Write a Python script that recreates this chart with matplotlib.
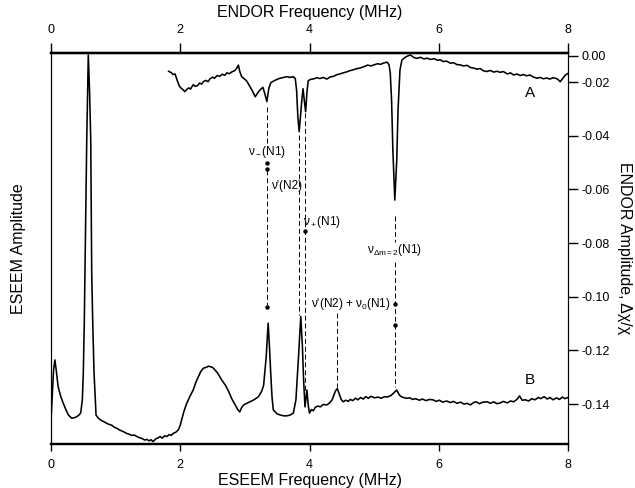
import matplotlib

matplotlib.use("Agg")
import matplotlib.pyplot as plt  # noqa: E402

plt.rcParams["font.family"] = ["Liberation Sans", "DejaVu Sans"]
plt.rcParams["mathtext.fontset"] = "custom"
plt.rcParams["mathtext.rm"] = "Liberation Sans"
plt.rcParams["mathtext.it"] = "Liberation Sans"

# ENDOR spectrum (trace A), right axis, delta chi / chi
endor_freq = [
    1.82, 1.86, 1.89, 1.92, 1.95, 1.98, 2.00, 2.04, 2.07, 2.10, 2.13, 2.16,
    2.20, 2.23, 2.27, 2.30, 2.33, 2.36, 2.40, 2.43, 2.46, 2.50, 2.53, 2.57,
    2.61, 2.65, 2.69, 2.72, 2.76, 2.80, 2.84, 2.87, 2.90, 2.92, 2.95, 2.98,
    3.02, 3.05, 3.08, 3.12, 3.16, 3.20, 3.24, 3.28, 3.31, 3.34, 3.37, 3.40,
    3.44, 3.48, 3.52, 3.56, 3.60, 3.65, 3.70, 3.75, 3.78, 3.80, 3.82, 3.84,
    3.86, 3.88, 3.90, 3.92, 3.94, 3.96, 3.98, 4.02, 4.07, 4.11, 4.16, 4.21,
    4.27, 4.32, 4.37, 4.42, 4.47, 4.52, 4.58, 4.62, 4.67, 4.72, 4.78, 4.84,
    4.90, 4.95, 5.00, 5.05, 5.10, 5.15, 5.20, 5.23, 5.25, 5.27, 5.29, 5.32,
    5.35, 5.37, 5.40, 5.43, 5.47, 5.51, 5.56, 5.61, 5.66, 5.72, 5.77, 5.82,
    5.87, 5.93, 5.98, 6.02, 6.07, 6.12, 6.18, 6.23, 6.28, 6.33, 6.38, 6.44,
    6.49, 6.54, 6.59, 6.64, 6.69, 6.74, 6.80, 6.85, 6.90, 6.95, 7.00, 7.06,
    7.11, 7.16, 7.21, 7.26, 7.31, 7.36, 7.41, 7.46, 7.52, 7.57, 7.62, 7.67,
    7.72, 7.77, 7.83, 7.86, 7.88, 7.92, 7.96, 8.00,
]
endor_amp = [
    -0.0160, -0.0165, -0.0172, -0.0170, -0.0192, -0.0212, -0.0220, -0.0228,
    -0.0236, -0.0228, -0.0222, -0.0226, -0.0210, -0.0216, -0.0213, -0.0204,
    -0.0208, -0.0198, -0.0194, -0.0199, -0.0188, -0.0182, -0.0186, -0.0176,
    -0.0179, -0.0171, -0.0175, -0.0166, -0.0169, -0.0162, -0.0158, -0.0150,
    -0.0137, -0.0160, -0.0180, -0.0186, -0.0194, -0.0205, -0.0218, -0.0235,
    -0.0255, -0.0240, -0.0228, -0.0220, -0.0245, -0.0273, -0.0225, -0.0203,
    -0.0197, -0.0192, -0.0188, -0.0185, -0.0183, -0.0180, -0.0183, -0.0180,
    -0.0188, -0.0230, -0.0330, -0.0385, -0.0330, -0.0270, -0.0225, -0.0270,
    -0.0311, -0.0240, -0.0195, -0.0190, -0.0188, -0.0184, -0.0187, -0.0183,
    -0.0189, -0.0181, -0.0179, -0.0173, -0.0170, -0.0166, -0.0162, -0.0158,
    -0.0155, -0.0151, -0.0148, -0.0143, -0.0137, -0.0140, -0.0136, -0.0132,
    -0.0134, -0.0129, -0.0126, -0.0135, -0.0168, -0.0267, -0.0453, -0.0640,
    -0.0491, -0.0304, -0.0155, -0.0118, -0.0110, -0.0104, -0.0099, -0.0108,
    -0.0112, -0.0108, -0.0114, -0.0111, -0.0116, -0.0113, -0.0119, -0.0117,
    -0.0124, -0.0122, -0.0130, -0.0128, -0.0135, -0.0136, -0.0140, -0.0138,
    -0.0146, -0.0148, -0.0152, -0.0150, -0.0158, -0.0161, -0.0157, -0.0163,
    -0.0160, -0.0164, -0.0161, -0.0170, -0.0166, -0.0174, -0.0170, -0.0176,
    -0.0172, -0.0177, -0.0174, -0.0181, -0.0186, -0.0183, -0.0188, -0.0185,
    -0.0189, -0.0184, -0.0188, -0.0194, -0.0199, -0.0186, -0.0174, -0.0168,
]

# ESEEM spectrum (trace B), left axis, arbitrary units
eseem_freq = [
    0.00, 0.02, 0.04, 0.06, 0.08, 0.11, 0.15, 0.19, 0.23, 0.27, 0.32, 0.36,
    0.40, 0.44, 0.46, 0.485, 0.50, 0.515, 0.535, 0.553, 0.577, 0.597, 0.615,
    0.63, 0.646, 0.666, 0.697, 0.732, 0.78, 0.82, 0.86, 0.90, 0.94, 0.98,
    1.02, 1.06, 1.10, 1.14, 1.17, 1.21, 1.25, 1.29, 1.33, 1.37, 1.41, 1.45,
    1.48, 1.52, 1.55, 1.58, 1.62, 1.66, 1.69, 1.72, 1.76, 1.79, 1.83, 1.86,
    1.89, 1.93, 1.97, 2.00, 2.02, 2.06, 2.10, 2.15, 2.20, 2.24, 2.28, 2.32,
    2.36, 2.40, 2.44, 2.46, 2.50, 2.54, 2.58, 2.62, 2.64, 2.70, 2.75, 2.80,
    2.85, 2.89, 2.92, 2.95, 2.98, 3.03, 3.08, 3.14, 3.21, 3.26, 3.29, 3.33,
    3.36, 3.38, 3.40, 3.42, 3.44, 3.50, 3.55, 3.60, 3.65, 3.70, 3.75, 3.79,
    3.83, 3.865, 3.89, 3.91, 3.93, 3.96, 3.98, 4.00, 4.03, 4.06, 4.09, 4.13,
    4.17, 4.21, 4.27, 4.31, 4.35, 4.40, 4.43, 4.46, 4.49, 4.52, 4.56, 4.60,
    4.63, 4.67, 4.71, 4.75, 4.79, 4.83, 4.87, 4.91, 4.95, 5.01, 5.06, 5.11,
    5.16, 5.20, 5.26, 5.30, 5.35, 5.38, 5.41, 5.45, 5.50, 5.55, 5.60, 5.64,
    5.70, 5.75, 5.80, 5.86, 5.91, 5.96, 6.01, 6.06, 6.12, 6.18, 6.23, 6.28,
    6.34, 6.39, 6.44, 6.49, 6.54, 6.58, 6.63, 6.68, 6.75, 6.80, 6.85, 6.90,
    6.95, 7.00, 7.06, 7.11, 7.16, 7.21, 7.25, 7.29, 7.34, 7.39, 7.44, 7.49,
    7.54, 7.58, 7.63, 7.68, 7.72, 7.77, 7.82, 7.87, 7.91, 7.95, 8.00,
]
eseem_amp = [
    0.060, 0.125, 0.190, 0.215, 0.190, 0.147, 0.122, 0.104, 0.088, 0.074,
    0.066, 0.067, 0.070, 0.075, 0.080, 0.113, 0.182, 0.309, 0.550, 0.777,
    0.995, 0.900, 0.777, 0.437, 0.309, 0.182, 0.074, 0.066, 0.060, 0.057,
    0.053, 0.050, 0.048, 0.043, 0.040, 0.036, 0.033, 0.030, 0.027, 0.025,
    0.022, 0.023, 0.019, 0.016, 0.014, 0.010, 0.012, 0.008, 0.011, 0.006,
    0.013, 0.016, 0.019, 0.015, 0.021, 0.019, 0.024, 0.022, 0.027, 0.030,
    0.036, 0.048, 0.061, 0.085, 0.104, 0.122, 0.138, 0.157, 0.172, 0.186,
    0.194, 0.196, 0.199, 0.198, 0.196, 0.189, 0.181, 0.170, 0.164, 0.150,
    0.134, 0.115, 0.100, 0.088, 0.082, 0.093, 0.100, 0.104, 0.108, 0.113,
    0.121, 0.135, 0.150, 0.223, 0.309, 0.250, 0.181, 0.120, 0.087, 0.077,
    0.074, 0.072, 0.072, 0.074, 0.079, 0.113, 0.223, 0.326, 0.250, 0.160,
    0.095, 0.138, 0.100, 0.079, 0.088, 0.085, 0.094, 0.097, 0.095, 0.101,
    0.100, 0.105, 0.113, 0.135, 0.142, 0.128, 0.114, 0.108, 0.112, 0.109,
    0.114, 0.111, 0.117, 0.113, 0.119, 0.115, 0.121, 0.117, 0.122, 0.118,
    0.120, 0.117, 0.121, 0.120, 0.124, 0.130, 0.138, 0.128, 0.122, 0.119,
    0.117, 0.118, 0.114, 0.116, 0.112, 0.115, 0.111, 0.114, 0.113, 0.109,
    0.112, 0.107, 0.110, 0.106, 0.109, 0.104, 0.107, 0.102, 0.104, 0.100,
    0.106, 0.108, 0.103, 0.107, 0.108, 0.104, 0.108, 0.103, 0.105, 0.109,
    0.105, 0.110, 0.108, 0.114, 0.123, 0.112, 0.113, 0.110, 0.116, 0.113,
    0.119, 0.116, 0.121, 0.115, 0.119, 0.113, 0.118, 0.114, 0.120, 0.116,
    0.119,
]

freq_ticks = [0, 2, 4, 6, 8]
endor_ticks = [-0.0103, -0.02, -0.04, -0.06, -0.08, -0.10, -0.12, -0.14]
endor_tick_labels = ["0.00", "-0.02", "-0.04", "-0.06", "-0.08", "-0.10",
                     "-0.12", "-0.14"]

fig = plt.figure(figsize=(6.35, 4.88), dpi=100)
ax = fig.add_axes([51 / 635, 44 / 488, 517 / 635, 391 / 488])
ax.plot(eseem_freq, eseem_amp, color="black", lw=1.15)
ax.set_xlim(0, 8)
ax.set_ylim(0, 1)
ax.set_yticks([])
ax.set_xticks(freq_ticks)
ax.tick_params(axis="x", direction="out", length=5, width=1, pad=6,
               labelsize=9)
ax.set_xlabel("ESEEM Frequency (MHz)", fontsize=11.5, labelpad=1)
ax.set_ylabel("ESEEM Amplitude", fontsize=11.5, labelpad=18)

top = ax.secondary_xaxis("top")
top.set_xticks(freq_ticks)
top.tick_params(direction="out", length=7, width=1, pad=5, labelsize=9)
top.set_xlabel("ENDOR Frequency (MHz)", fontsize=11.5, labelpad=5)

ax2 = ax.twinx()
ax2.plot(endor_freq, endor_amp, color="black", lw=1.15)
ax2.set_ylim(-0.1549, -0.00919)
ax2.set_yticks(endor_ticks)
ax2.set_yticklabels(endor_tick_labels)
ax2.tick_params(axis="y", direction="out", length=7, width=1, pad=3,
                labelsize=9)
ax2.set_ylabel("ENDOR Amplitude, Δχ/χ", fontsize=11.5, rotation=270,
               labelpad=16)

for a in (ax, ax2):
    a.spines["top"].set_linewidth(1.6)
    a.spines["bottom"].set_linewidth(1.6)
    a.spines["left"].set_linewidth(0.8)
    a.spines["right"].set_linewidth(0.8)
top.spines["top"].set_linewidth(1.6)

# dashed guide lines linking ENDOR and ESEEM lines (ENDOR units on y)
dash = dict(color="black", lw=0.7, ls=(0, (5, 3)))
ax2.plot([3.348, 3.348], [-0.0293, -0.0453], **dash)
ax2.plot([3.348, 3.348], [-0.0528, -0.1031], **dash)
ax2.plot([3.839, 3.839], [-0.0398, -0.1068], **dash)
ax2.plot([3.932, 3.932], [-0.0316, -0.1348], **dash)
ax2.plot([4.423, 4.423], [-0.1061, -0.1337], **dash)
ax2.plot([5.325, 5.325], [-0.0699, -0.0796], **dash)
ax2.plot([5.325, 5.325], [-0.0871, -0.1337], **dash)

dots_x = [3.348, 3.348, 3.348, 3.932, 5.325, 5.325]
dots_y = [-0.0503, -0.0525, -0.1037, -0.0755, -0.1027, -0.1106]
ax2.plot(dots_x, dots_y, "o", color="black", ms=2.2)

fs = 8.5
ax2.text(3.348, -0.0461, "ν$_-$(N1)", ha="center", va="center", fontsize=fs)
ax2.text(3.40, -0.0588, "ν'(N2)", ha="left", va="center", fontsize=fs)
ax2.text(3.90, -0.0722, "ν$_+$(N1)", ha="left", va="center", fontsize=fs)
ax2.text(5.31, -0.0826, "ν$_{Δm=2}$(N1)", ha="center", va="center",
         fontsize=fs)
ax2.text(5.26, -0.1027, "ν'(N2) + ν$_0$(N1)", ha="right", va="center",
         fontsize=fs)
ax2.text(7.415, -0.0241, "A", ha="center", va="center", fontsize=11)
ax2.text(7.415, -0.1311, "B", ha="center", va="center", fontsize=11)

fig.savefig("out.png", dpi=100)
